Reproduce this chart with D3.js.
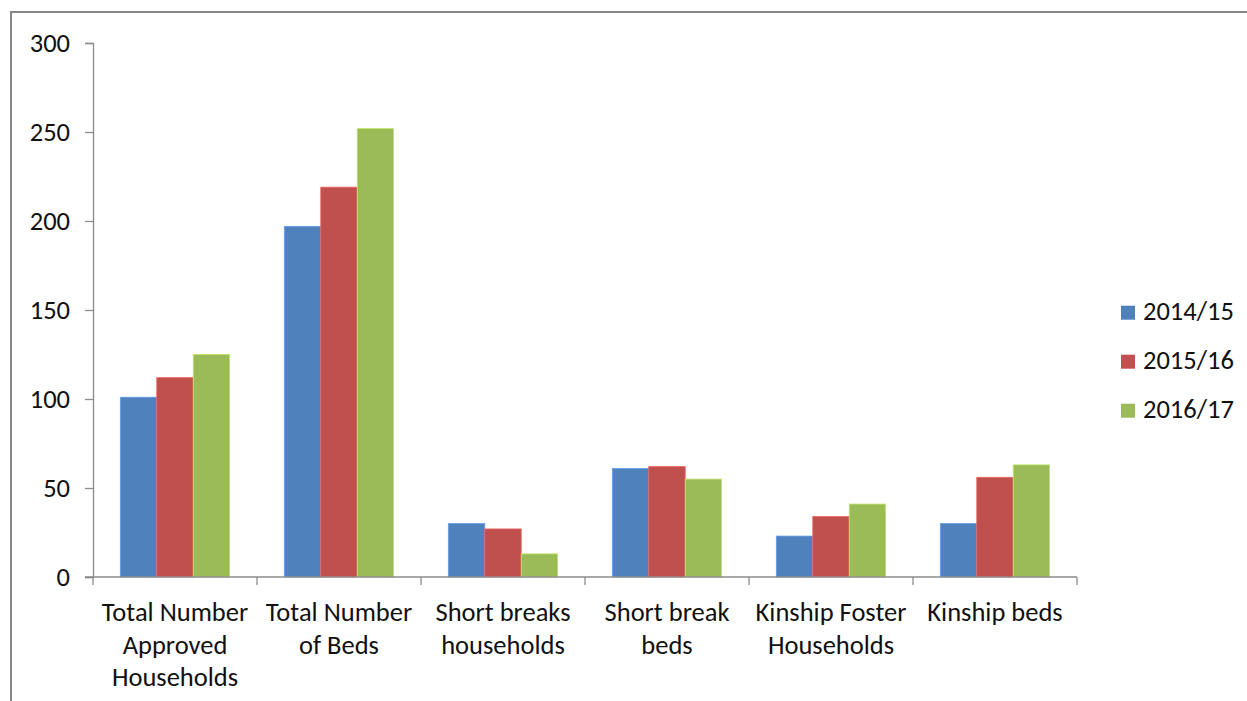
<!DOCTYPE html>
<html>
<head>
<meta charset="utf-8">
<script src="https://cdn.jsdelivr.net/npm/d3@7"></script>
<style>
  body { margin: 0; background: #fff; }
  svg text { font-family: Carlito, Calibri, "Open Sans", sans-serif; fill: #111; }
</style>
</head>
<body>
<div id="chart"></div>
<script>
// Data
const categories = [
  ["Total Number", "Approved", "Households"],
  ["Total Number", "of Beds"],
  ["Short breaks", "households"],
  ["Short break", "beds"],
  ["Kinship Foster", "Households"],
  ["Kinship beds"]
];
const seriesNames = ["2014/15", "2015/16", "2016/17"];
const values2014 = [101, 197, 30, 61, 23, 30];
const values2015 = [112, 219, 27, 62, 34, 56];
const values2016 = [125, 252, 13, 55, 41, 63];
const yTicks = [0, 50, 100, 150, 200, 250, 300];
const colors = ["#4F81BD", "#C0504D", "#9BBB59"];

const width = 1247, height = 701;
const margin = { left: 93, right: 170, top: 43, bottom: 124 };
const fontSize = "26.5px";

const svg = d3.select("#chart").append("svg")
  .attr("width", width)
  .attr("height", height);

// outer frame
svg.append("rect")
  .attr("x", 11).attr("y", 12)
  .attr("width", width + 20).attr("height", height + 20)
  .attr("fill", "none")
  .attr("stroke", "#878787")
  .attr("stroke-width", 2);

const series = [values2014, values2015, values2016];
const idx = d3.range(categories.length);

const x = d3.scaleBand()
  .domain(idx)
  .range([margin.left, width - margin.right]);

// gap width 150% -> 0.75 bar width on each side
const x1 = d3.scaleBand()
  .domain(d3.range(series.length))
  .range([0, x.bandwidth()])
  .paddingOuter(0.75)
  .paddingInner(0);

const y = d3.scaleLinear()
  .domain([0, 300])
  .range([height - margin.bottom, margin.top]);

// bars
series.forEach((vals, s) => {
  svg.append("g").selectAll("rect")
    .data(vals)
    .enter()
    .append("rect")
    .attr("x", (d, i) => x(i) + x1(s))
    .attr("y", d => y(d))
    .attr("width", x1.bandwidth())
    .attr("height", d => y(0) - y(d))
    .attr("fill", colors[s])
    .attr("stroke", d3.color(colors[s]).brighter(0.6))
    .attr("stroke-width", 0.8);
});

// y axis
const yAxis = svg.append("g")
  .attr("transform", "translate(" + margin.left + ",0)")
  .call(d3.axisLeft(y).tickValues(yTicks).tickSize(8).tickPadding(15));
yAxis.select(".domain").attr("stroke", "#8c8c8c").attr("stroke-width", 1.3);
yAxis.selectAll(".tick line").attr("stroke", "#8c8c8c").attr("stroke-width", 1.3);
yAxis.selectAll(".tick text").style("font-size", fontSize).attr("fill", "#111");

// x axis
const xTickPos = idx.map(i => x(i)).concat([x.range()[1]]);
svg.append("line")
  .attr("x1", x.range()[0] - 8).attr("x2", x.range()[1])
  .attr("y1", y(0)).attr("y2", y(0))
  .attr("stroke", "#8c8c8c").attr("stroke-width", 1.3);
svg.append("g").selectAll("line")
  .data(xTickPos)
  .enter().append("line")
  .attr("x1", d => d).attr("x2", d => d)
  .attr("y1", y(0)).attr("y2", y(0) + 8)
  .attr("stroke", "#8c8c8c").attr("stroke-width", 1.3);

const labels = svg.append("g").selectAll("text")
  .data(categories)
  .enter().append("text")
  .attr("text-anchor", "middle")
  .style("font-size", fontSize)
  .attr("transform", (d, i) => "translate(" + (x(i) + x.bandwidth() / 2) + "," + (y(0) + 44) + ")");
labels.selectAll("tspan")
  .data(d => d)
  .enter().append("tspan")
  .attr("x", 0)
  .attr("y", (d, j) => j * 32.5)
  .text(d => d);

// legend
const legend = svg.append("g").selectAll("g")
  .data(seriesNames)
  .enter().append("g")
  .attr("transform", (d, i) => "translate(1121," + (312.7 + i * 49) + ")");
legend.append("rect")
  .attr("x", 0).attr("y", -7)
  .attr("width", 14).attr("height", 14)
  .attr("fill", (d, i) => colors[i]);
legend.append("text")
  .attr("x", 22).attr("y", 7.5)
  .style("font-size", fontSize)
  .text(d => d);
</script>
</body>
</html>
